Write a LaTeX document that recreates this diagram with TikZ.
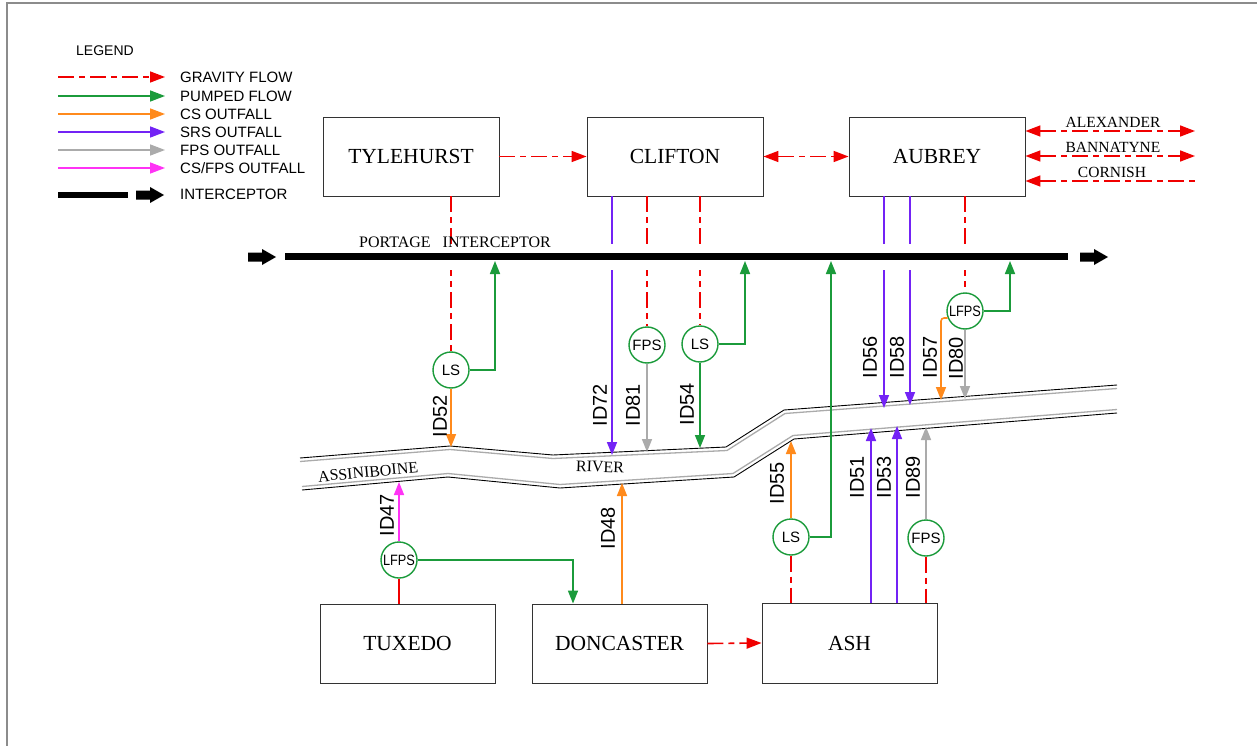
\documentclass[tikz,border=0pt]{standalone}
\usepackage{fontspec}
\setmainfont{Liberation Serif}
\setsansfont{Liberation Sans}
\usetikzlibrary{arrows.meta}
\definecolor{cred}{HTML}{F00000}
\definecolor{cgreen}{HTML}{1B9B3B}
\definecolor{corange}{HTML}{FF8A1C}
\definecolor{cpurple}{HTML}{7323F5}
\definecolor{cgray}{HTML}{ABABAB}
\definecolor{cmag}{HTML}{FF33F5}
\definecolor{cframe}{HTML}{8C8C8C}
\definecolor{cbox}{HTML}{333333}
\begin{document}
\begin{tikzpicture}[x=1pt,y=-1pt,
  tipa/.style={-{Triangle[length=13pt,width=10pt]}},
  flow/.style={line width=1.6pt},
  gravdash/.style={dash pattern=on 16pt off 5pt on 6pt off 5pt},
  grav/.style={flow,cred,gravdash},
  gravarrow/.style={grav,-{Triangle[length=15pt,width=11pt]}},
  gravboth/.style={grav,{Triangle[length=15pt,width=11pt]}-{Triangle[length=15pt,width=11pt]}},
  gravin/.style={grav,{Triangle[length=15pt,width=11pt]}-},
  pumped/.style={flow,cgreen,tipa},
  cs/.style={flow,corange,tipa},
  srs/.style={flow,cpurple,tipa},
  fps/.style={flow,cgray,tipa},
  csfps/.style={flow,cmag,tipa},
  legtip/.style={-{Triangle[length=15pt,width=11pt]}},
  box/.style={draw=cbox,line width=0.9pt,fill=white,minimum width=176pt,minimum height=79pt,inner sep=0pt,font=\fontsize{21.5}{26}\selectfont},
  circ/.style={circle,draw=cgreen,line width=1.4pt,minimum size=36pt,inner sep=0pt,fill=white,font=\sffamily\fontsize{15}{15}\selectfont},
  idlab/.style={rotate=90,inner sep=0pt,font=\sffamily\fontsize{20}{20}\selectfont},
  leg/.style={anchor=west,inner sep=0pt,font=\sffamily\fontsize{15}{16}\selectfont},
  slab/.style={inner sep=0pt,font=\fontsize{16}{18}\selectfont},
  blockarr/.pic={\fill[black] (0,-4.5) -- (14,-4.5) -- (14,-8) -- (28,0) -- (14,8) -- (14,4.5) -- (0,4.5) -- cycle;}
]
\useasboundingbox (0,0) rectangle (1257,746);
\fill[white] (0,0) rectangle (1257,746);
% frame
\draw[cframe,line width=2pt] (7,746) -- (7,3.5) -- (1257,3.5);

% ---------- legend ----------
\node[inner sep=0pt,font=\sffamily\fontsize{14}{15}\selectfont] (legtitle) at (105,51) {LEGEND};
\foreach \yy/\nm/\st/\tx in {77/l1/grav/{GRAVITY FLOW}, 96/l2/pumped/{PUMPED FLOW}, 114/l3/cs/{CS OUTFALL}, 132/l4/srs/{SRS OUTFALL}, 150/l5/fps/{FPS OUTFALL}, 168/l6/csfps/{CS/FPS OUTFALL}}{
  \coordinate (\nm a) at (58,\yy);
  \coordinate (\nm b) at (165,\yy);
  \draw[\st,legtip] (\nm a) -- (\nm b);
  \node[leg] (\nm t) at (180,\yy) {\tx};
}
\coordinate (l7a) at (58,195);
\coordinate (l7b) at (128,195);
\draw[line width=6pt] (l7a) -- (l7b);
\pic at (136,195) {blockarr};
\node[leg] (l7t) at (180,194) {INTERCEPTOR};

% ---------- river ----------
\draw[black,line width=0.9pt] (300,458) -- (450,446) -- (553,455) -- (726,447) -- (784,410) -- (1117,385);
\draw[cgray,line width=1.3pt] (300,461.5) -- (450,449.5) -- (553,458.5) -- (727,450.5) -- (785,413.5) -- (1117,388.5);
\draw[cgray,line width=1.3pt] (302,486.5) -- (448,473.5) -- (560,484.5) -- (733,473.5) -- (793,435.5) -- (1117,409.5);
\draw[black,line width=0.9pt] (302,490) -- (448,477) -- (560,488) -- (734,477) -- (794,439) -- (1117,413);
\node[slab,rotate=5.5] (assin) at (368,472) {ASSINIBOINE};
\node[slab,rotate=-2] (river) at (600,467) {RIVER};

% ---------- boxes ----------
\node[box] (TYL) at (411,156.5) {TYLEHURST};
\node[box] (CLI) at (675,156.5) {CLIFTON};
\node[box] (AUB) at (937,156.5) {AUBREY};
\node[box,minimum width=175pt] (TUX) at (407.5,643.5) {TUXEDO};
\node[box,minimum width=175pt] (DON) at (619.5,643.5) {DONCASTER};
\node[box,minimum width=175pt,minimum height=80pt] (ASH) at (849.5,643) {ASH};

% ---------- stations ----------
\node[circ] (LS1) at (451,370) {LS};
\node[circ] (FPS2) at (647,345) {FPS};
\node[circ] (LS2) at (700,344) {LS};
\node[circ] (LF3) at (965,311) {\scalebox{0.85}[1]{LFPS}};
\node[circ] (LF5) at (399,560) {\scalebox{0.85}[1]{LFPS}};
\node[circ] (LS4) at (791,537) {LS};
\node[circ] (FPS4) at (926,538) {FPS};

% river end points of outfalls
\coordinate (r52) at (451,447);
\coordinate (r72) at (612,455);
\coordinate (r81) at (647,452);
\coordinate (r54) at (700,448);
\coordinate (r56) at (884,408);
\coordinate (r58) at (910,405);
\coordinate (r57) at (941,400);
\coordinate (r80) at (965,399);
\coordinate (r47) at (399,482);
\coordinate (r48) at (622,483);
\coordinate (r55) at (791,441);
\coordinate (r51) at (871,428);
\coordinate (r53) at (897,426);
\coordinate (r89) at (926,427);

% ---------- vertical flows crossing the interceptor ----------
\draw[grav] (TYL.south -| LS1) -- (LS1.north);
\draw[srs] (CLI.south -| r72) -- (r72);
\draw[grav] (CLI.south -| FPS2) -- (FPS2.north);
\draw[grav] (CLI.south -| LS2) -- (LS2.north);
\draw[srs] (AUB.south -| r56) -- (r56);
\draw[srs] (AUB.south -| r58) -- (r58);
\draw[grav] (AUB.south -| LF3) -- (LF3.north);

% ---------- interceptor ----------
\coordinate (iL) at (285,256.5);
\coordinate (iR) at (1068,256.5);
\draw[white,line width=26pt] (iL) -- (iR);
\draw[black,line width=6.5pt] (iL) -- (iR);
\pic at (248,257) {blockarr};
\pic at (1080,257) {blockarr};
\node[slab] (portage) at (455,242) {PORTAGE\hspace{12pt}INTERCEPTOR};

% interceptor targets
\coordinate (g52) at (495,261);
\coordinate (g54) at (745,261);
\coordinate (g80) at (1010,261);
\coordinate (g55) at (831,261);

% ---------- pumped flows ----------
\draw[pumped] (LS1.east) -| (g52);
\draw[pumped] (LS2.east) -| (g54);
\draw[pumped] (LF3.east) -| (g80);
\draw[pumped] (LS4.east) -| (g55);
\draw[pumped] (LF5.east) -| ([xshift=-46.5pt]DON.north);
\draw[pumped] (LS2.south) -- (r54);

% ---------- outfalls ----------
\draw[cs] (LS1.south) -- (r52);
\draw[fps] (FPS2.south) -- (r81);
\draw[cs,rounded corners=3pt] (LF3.202) -| (r57);
\draw[fps] (LF3.south) -- (r80);
\draw[csfps] (LF5.north) -- (r47);
\draw[cs] (DON.north -| r48) -- (r48);
\draw[cs] (LS4.north) -- (r55);
\draw[srs] (ASH.north -| r51) -- (r51);
\draw[srs] (ASH.north -| r53) -- (r53);
\draw[fps] (FPS4.north) -- (r89);

% ---------- gravity into stations from below ----------
\draw[flow,cred] (TUX.north -| LF5) -- (LF5.south);
\draw[grav] (LS4.south) -- (ASH.north -| LS4);
\draw[grav] (FPS4.south) -- (ASH.north -| FPS4);

% ---------- gravity between districts ----------
\draw[gravarrow] (TYL.east) -- (CLI.west);
\draw[gravboth] (CLI.east) -- (AUB.west);
\draw[gravarrow] (DON.east) -- (ASH.west);
\coordinate (alx) at (1195,131);
\coordinate (ban) at (1195,156);
\coordinate (cor) at (1195,181);
\draw[gravboth] (AUB.east |- alx) -- (alx);
\draw[gravboth] (AUB.east |- ban) -- (ban);
\draw[gravin] (AUB.east |- cor) -- (cor);
\node[slab,font=\fontsize{15.5}{17}\selectfont] (alxt) at (1113,122) {ALEXANDER};
\node[slab,font=\fontsize{15.5}{17}\selectfont] (bant) at (1113,147) {BANNATYNE};
\node[slab,font=\fontsize{15.5}{17}\selectfont] (cort) at (1112,172) {CORNISH};

% ---------- ID labels ----------
\node[idlab] (t52) at (440,416) {ID52};
\node[idlab] (t72) at (600,405) {ID72};
\node[idlab] (t81) at (633,405) {ID81};
\node[idlab] (t54) at (687,404) {ID54};
\node[idlab] (t56) at (870,357) {ID56};
\node[idlab] (t58) at (897,357) {ID58};
\node[idlab] (t57) at (930,357) {ID57};
\node[idlab] (t80) at (956,358) {ID80};
\node[idlab] (t55) at (777,483) {ID55};
\node[idlab] (t51) at (857,477) {ID51};
\node[idlab] (t53) at (884,477) {ID53};
\node[idlab] (t89) at (913,477) {ID89};
\node[idlab] (t47) at (387,515) {ID47};
\node[idlab] (t48) at (608,528) {ID48};
\end{tikzpicture}
\end{document}
